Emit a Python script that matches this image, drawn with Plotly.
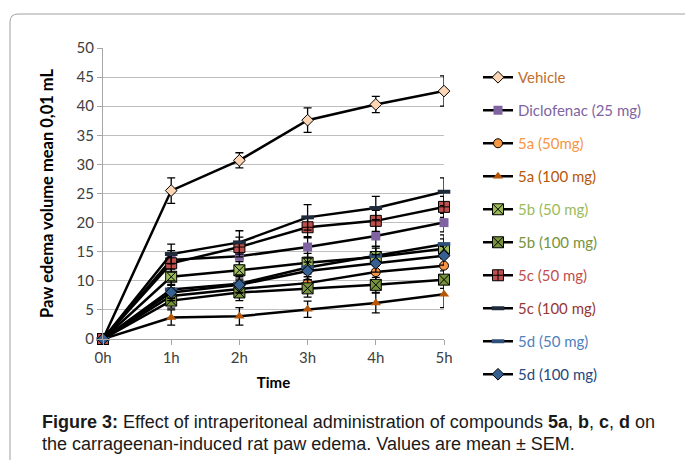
import plotly.graph_objects as go

times = ["0h", "1h", "2h", "3h", "4h", "5h"]
names = ["Vehicle", "Diclofenac (25 mg)", "5a (50mg)", "5a (100 mg)", "5b (50 mg)",
         "5b (100 mg)", "5c (50 mg)", "5c (100 mg)", "5d (50 mg)", "5d (100 mg)"]

vehicle = [0, 25.5, 30.7, 37.6, 40.3, 42.6]
diclofenac = [0, 13.6, 14.2, 15.8, 17.7, 20.0]
a50 = [0, 7.4, 8.6, 9.6, 11.5, 12.6]
a100 = [0, 3.7, 3.9, 5.1, 6.2, 7.7]
b50 = [0, 10.7, 11.8, 13.1, 14.1, 15.5]
b100 = [0, 6.6, 8.0, 8.7, 9.3, 10.2]
c50 = [0, 13.0, 15.8, 19.2, 20.3, 22.7]
c100 = [0, 14.6, 16.6, 20.9, 22.5, 25.3]
d50 = [0, 8.5, 9.5, 12.3, 14.3, 16.3]
d100 = [0, 8.0, 9.3, 11.7, 13.0, 14.3]

vehicle_err = [0, 2.2, 1.3, 2.1, 1.4, 2.6]
diclofenac_err = [0, 1.6, 1.5, 1.8, 1.8, 1.6]
a50_err = [0, 1.4, 1.4, 1.6, 1.5, 1.6]
a100_err = [0, 1.3, 1.5, 1.4, 1.7, 2.3]
b50_err = [0, 1.5, 1.5, 1.6, 1.5, 1.7]
b100_err = [0, 1.3, 1.4, 1.5, 1.3, 1.5]
c50_err = [0, 1.5, 1.7, 1.8, 1.8, 1.8]
c100_err = [0, 1.7, 2.0, 2.2, 2.0, 2.4]
d50_err = [0, 1.5, 1.5, 1.6, 1.6, 1.6]
d100_err = [0, 1.4, 1.4, 1.5, 1.5, 1.6]

values = [vehicle, diclofenac, a50, a100, b50, b100, c50, c100, d50, d100]
errors = [vehicle_err, diclofenac_err, a50_err, a100_err, b50_err, b100_err,
          c50_err, c100_err, d50_err, d100_err]

markers = [
    dict(symbol="diamond", size=9, color="#FCD5B5", line=dict(color="#000000", width=1)),
    dict(symbol="square", size=9, color="#8064A2", line=dict(color="#8064A2", width=0)),
    dict(symbol="circle", size=9, color="#F79646", line=dict(color="#000000", width=1)),
    dict(symbol="triangle-up", size=9, color="#B65708", line=dict(color="#B65708", width=0)),
    dict(symbol="square-x", size=11, color="#9BBB59", line=dict(color="#000000", width=1)),
    dict(symbol="square-x", size=11, color="#77933C", line=dict(color="#000000", width=1)),
    dict(symbol="square-cross", size=11, color="#C0504D", line=dict(color="#000000", width=1)),
    dict(symbol="line-ew", size=9, color="#1F2A3A", line=dict(color="#1F2A3A", width=4)),
    dict(symbol="line-ew", size=9, color="#2D4F78", line=dict(color="#2D4F78", width=4)),
    dict(symbol="diamond", size=9, color="#376092", line=dict(color="#000000", width=1)),
]
text_colors = ["#C0702F", "#8064A2", "#F79646", "#B65708", "#9BBB59",
               "#77933C", "#C0504D", "#953735", "#4F81BD", "#1F497D"]

fig = go.Figure()
for i, (nm, v, e) in enumerate(zip(names, values, errors)):
    fig.add_trace(go.Scatter(
        x=list(range(len(times))), y=v,
        name=f"<span style='color:{text_colors[i]}'>{nm}</span>",
        mode="lines+markers",
        line=dict(color="#000000", width=2.5),
        marker=markers[i],
        error_y=dict(type="data", array=e, visible=True, color="#000000", thickness=1.3, width=4),
        legendgroup=f"g{i}",
        cliponaxis=False,
    ))

# plot area pixel box
L, R, T, B = 103, 444, 48, 339
W, H = 685, 460

def px(x):
    return (x - L) / (R - L)

def py(y):
    return (B - y) / (B - T)

border = (f"M {px(10)} {py(470)} L {px(10)} {py(22)} Q {px(10)} {py(14)} {px(18)} {py(14)} "
          f"L {px(700)} {py(14)}")

cap_font = dict(family="Liberation Sans, Arial", size=18, color="#1a1a1a")

fig.update_layout(
    width=W, height=H,
    margin=dict(l=L, r=W - R, t=T, b=H - B, pad=0),
    paper_bgcolor="white", plot_bgcolor="white",
    font=dict(family="Lato, Open Sans, sans-serif", size=14, color="#404040"),
    showlegend=True,
    legend=dict(
        x=px(478), y=py(61), xanchor="left", yanchor="top",
        font=dict(size=15, family="Lato, Open Sans, sans-serif"),
        traceorder="grouped", tracegroupgap=10.5,
        itemwidth=30, bgcolor="rgba(0,0,0,0)", maxheight=420,
    ),
    xaxis=dict(
        range=[0, 5], tickvals=list(range(len(times))), ticktext=times,
        showgrid=False, zeroline=False, showline=True, linecolor="#A6A6A6", linewidth=1,
        ticks="outside", ticklen=5, tickcolor="#A6A6A6",
        title=dict(text="<b>Time</b>", font=dict(size=15, color="#000000"), standoff=12),
        tickfont=dict(size=15, color="#404040"),
    ),
    yaxis=dict(
        range=[0, 50], dtick=5, showgrid=True, gridcolor="#BFBFBF", gridwidth=1,
        zeroline=False, showline=True, linecolor="#A6A6A6", linewidth=1,
        ticks="outside", ticklen=5, tickcolor="#A6A6A6",
        title=dict(text="<b>Paw edema volume mean 0,01 mL</b>", font=dict(size=16.5, color="#000000"), standoff=18),
        tickfont=dict(size=15, color="#404040"),
    ),
    shapes=[dict(type="path", path=border, xref="paper", yref="paper",
                 line=dict(color="#A0A0A0", width=1))],
    annotations=[
        dict(text="<b>Figure 3:</b> Effect of intraperitoneal administration of compounds <b>5a</b>, <b>b</b>, <b>c</b>, <b>d</b> on",
             x=px(40), y=py(422), xref="paper", yref="paper", xanchor="left", yanchor="middle",
             showarrow=False, font=cap_font),
        dict(text="the carrageenan-induced rat paw edema. Values are mean ± SEM.",
             x=px(40), y=py(444), xref="paper", yref="paper", xanchor="left", yanchor="middle",
             showarrow=False, font=cap_font),
    ],
)

fig.write_html("out.html")
